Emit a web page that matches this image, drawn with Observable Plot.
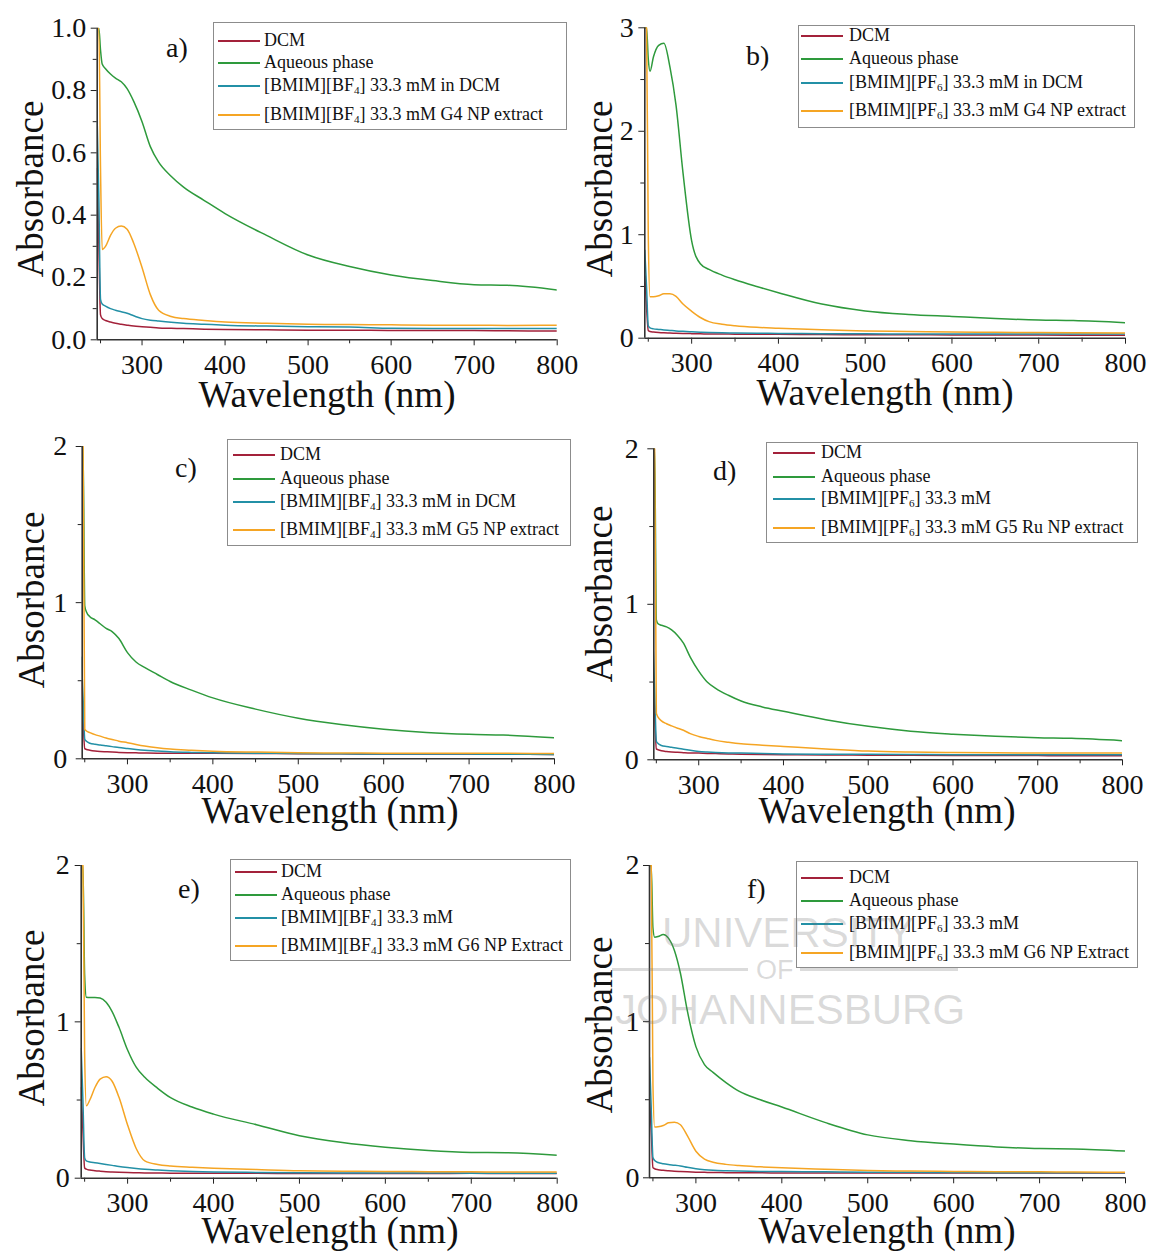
<!DOCTYPE html>
<html>
<head>
<meta charset="utf-8">
<script src="https://cdn.jsdelivr.net/npm/d3@7"></script>
<script src="https://cdn.jsdelivr.net/npm/@observablehq/plot@0.6"></script>
<style>
  body { margin: 0; background: #fff; }
  #root { position: relative; width: 1151px; height: 1252px; overflow: hidden; background: #fff;
          font-family: "Liberation Serif", "Times New Roman", serif; color: #111; }
  .legend { position: absolute; box-sizing: border-box; border: 1px solid #8c8c8c; }
  .sw { position: absolute; width: 42px; height: 2px; }
  .lt { position: absolute; white-space: nowrap; font-size: 18px; line-height: 1; color: #111; }
  .lt sub { font-size: 0.62em; vertical-align: -0.3em; line-height: 0; }
  .ttl { position: absolute; white-space: nowrap; font-size: 37px; line-height: 0.8; color: #111; }
  .let { position: absolute; white-space: nowrap; font-size: 28px; line-height: 1; color: #111; }
  .wm { position: absolute; white-space: nowrap; font-family: "Liberation Sans", Arial, sans-serif;
        color: rgba(110,110,110,0.25); line-height: 0.8; pointer-events: none; }
  .wmline { position: absolute; height: 3px; background: rgba(110,110,110,0.25); }
</style>
</head>
<body>
<div id="root"></div>
<script>
// ---------------- DATA ----------------
const WL = [246, 248, 250, 252, 256, 262, 268, 275, 282, 290, 300, 310, 320, 335, 350, 375, 400, 450, 500, 550, 600, 650, 700, 740, 800];

const SERIES = ["DCM", "Aqueous phase", "[BMIM] 33.3 mM", "NP extract"];
const COLORS = ["#a3213a", "#2e9a3c", "#2390a6", "#f5a524"];

// a) [BMIM][BF4] G4
const aDCM = [0.55,0.30,0.080,0.068,0.062,0.057,0.053,0.050,0.047,0.044,0.042,0.040,0.038,0.037,0.036,0.034,0.033,0.032,0.031,0.031,0.030,0.030,0.030,0.029,0.028];
const aAQ  = [1.00,1.00,0.93,0.885,0.87,0.853,0.84,0.828,0.806,0.765,0.70,0.62,0.57,0.525,0.49,0.447,0.405,0.335,0.272,0.235,0.208,0.19,0.177,0.175,0.16];
const aIL  = [0.70,0.45,0.13,0.115,0.108,0.10,0.095,0.09,0.085,0.077,0.068,0.063,0.06,0.056,0.053,0.05,0.047,0.044,0.042,0.041,0.037,0.036,0.036,0.036,0.036];
const aNP  = [1.00,1.00,0.55,0.29,0.30,0.335,0.358,0.365,0.355,0.31,0.232,0.145,0.095,0.075,0.068,0.062,0.057,0.053,0.05,0.049,0.048,0.047,0.047,0.046,0.047];

// b) [BMIM][PF6] G4
const bDCM = [0.60,0.30,0.075,0.065,0.06,0.055,0.052,0.05,0.048,0.046,0.044,0.042,0.041,0.04,0.039,0.038,0.037,0.035,0.034,0.033,0.032,0.031,0.03,0.029,0.028];
const bAQ  = [3.0,3.0,2.7,2.58,2.72,2.83,2.85,2.62,2.25,1.6,0.94,0.72,0.665,0.61,0.565,0.5,0.44,0.33,0.264,0.23,0.21,0.19,0.175,0.17,0.15];
const bIL  = [0.85,0.5,0.12,0.10,0.09,0.085,0.08,0.075,0.07,0.066,0.062,0.058,0.055,0.052,0.05,0.048,0.046,0.044,0.042,0.041,0.04,0.04,0.04,0.04,0.04];
const bNP  = [3.0,3.0,1.0,0.40,0.40,0.41,0.43,0.43,0.405,0.33,0.26,0.20,0.16,0.135,0.12,0.105,0.097,0.082,0.07,0.065,0.06,0.057,0.055,0.053,0.05];

// c) [BMIM][BF4] G5
const cDCM = [0.5,0.25,0.065,0.06,0.055,0.05,0.047,0.045,0.043,0.041,0.039,0.038,0.037,0.036,0.036,0.035,0.035,0.034,0.033,0.032,0.031,0.031,0.03,0.029,0.028];
const cAQ  = [2.0,2.0,0.98,0.94,0.91,0.89,0.865,0.835,0.815,0.77,0.68,0.62,0.585,0.54,0.495,0.44,0.39,0.318,0.26,0.22,0.19,0.169,0.157,0.152,0.135];
const cIL  = [0.65,0.4,0.125,0.112,0.10,0.093,0.088,0.083,0.078,0.072,0.066,0.06,0.055,0.05,0.045,0.041,0.039,0.036,0.034,0.032,0.031,0.03,0.03,0.029,0.028];
const cNP  = [2.0,2.0,0.19,0.178,0.168,0.155,0.145,0.133,0.124,0.113,0.103,0.092,0.082,0.07,0.062,0.055,0.049,0.043,0.039,0.037,0.036,0.035,0.035,0.035,0.034];

// d) [BMIM][PF6] G5 Ru
const dDCM = [0.57,0.3,0.07,0.065,0.058,0.053,0.05,0.048,0.046,0.044,0.043,0.041,0.04,0.038,0.036,0.034,0.033,0.031,0.03,0.029,0.028,0.027,0.027,0.026,0.026];
const dAQ  = [2.0,2.0,0.9,0.875,0.865,0.855,0.835,0.80,0.75,0.66,0.57,0.50,0.46,0.415,0.378,0.34,0.312,0.258,0.215,0.184,0.165,0.151,0.142,0.138,0.123];
const dIL  = [0.76,0.45,0.12,0.105,0.092,0.085,0.08,0.075,0.068,0.061,0.054,0.05,0.047,0.044,0.043,0.04,0.038,0.036,0.035,0.034,0.033,0.033,0.032,0.032,0.032];
const dNP  = [2.0,2.0,0.30,0.275,0.25,0.232,0.218,0.203,0.19,0.168,0.15,0.137,0.125,0.113,0.103,0.094,0.086,0.07,0.056,0.05,0.047,0.045,0.044,0.044,0.043];

// e) [BMIM][BF4] G6
const eDCM = [0.58,0.3,0.065,0.058,0.052,0.048,0.045,0.042,0.04,0.038,0.036,0.035,0.034,0.033,0.032,0.032,0.031,0.031,0.03,0.03,0.03,0.03,0.031,0.03,0.03];
const eAQ  = [2.0,2.0,1.3,1.157,1.155,1.155,1.152,1.125,1.065,0.965,0.82,0.71,0.645,0.575,0.515,0.455,0.41,0.342,0.272,0.228,0.198,0.177,0.165,0.163,0.147];
const eIL  = [0.83,0.5,0.13,0.111,0.104,0.099,0.094,0.088,0.082,0.075,0.068,0.062,0.057,0.052,0.048,0.043,0.04,0.037,0.035,0.034,0.033,0.033,0.032,0.032,0.032];
const eNP  = [2.0,2.0,0.8,0.463,0.50,0.58,0.634,0.649,0.62,0.517,0.34,0.19,0.111,0.088,0.078,0.07,0.064,0.055,0.047,0.045,0.043,0.042,0.041,0.04,0.04];

// f) [BMIM][PF6] G6
const fDCM = [0.52,0.3,0.065,0.058,0.052,0.048,0.045,0.042,0.04,0.038,0.036,0.035,0.034,0.033,0.032,0.032,0.031,0.031,0.03,0.03,0.03,0.03,0.031,0.03,0.03];
const fAQ  = [2.0,2.0,1.6,1.541,1.545,1.558,1.535,1.456,1.31,1.07,0.84,0.725,0.675,0.61,0.555,0.5,0.453,0.355,0.275,0.238,0.216,0.198,0.187,0.185,0.171];
const fIL  = [0.77,0.45,0.13,0.111,0.098,0.09,0.085,0.081,0.076,0.067,0.058,0.052,0.048,0.045,0.043,0.041,0.04,0.038,0.036,0.035,0.034,0.033,0.033,0.032,0.032];
const fNP  = [2.0,2.0,0.6,0.325,0.327,0.335,0.352,0.356,0.34,0.27,0.17,0.12,0.10,0.086,0.078,0.07,0.064,0.055,0.047,0.043,0.041,0.039,0.038,0.037,0.036];

// tick values
const X_MAJOR = [300, 400, 500, 600, 700, 800];
const X_MINOR = [250, 350, 450, 550, 650, 750];
const Y_MAJOR_A = [0, 0.2, 0.4, 0.6, 0.8, 1.0];
const Y_MINOR_A = [0.1, 0.3, 0.5, 0.7, 0.9];
const Y_MAJOR_B = [0, 1, 2, 3];
const Y_MINOR_B = [0.5, 1.5, 2.5];
const Y_MAJOR_2 = [0, 1, 2];
const Y_MINOR_2 = [0.5, 1.5];

// text
const X_TITLE = "Wavelength (nm)";
const Y_TITLE = "Absorbance";
const LEG_A = ["DCM", "Aqueous phase", "[BMIM][BF<sub>4</sub>] 33.3 mM in DCM", "[BMIM][BF<sub>4</sub>] 33.3 mM G4 NP extract"];
const LEG_B = ["DCM", "Aqueous phase", "[BMIM][PF<sub>6</sub>] 33.3 mM in DCM", "[BMIM][PF<sub>6</sub>] 33.3 mM G4 NP extract"];
const LEG_C = ["DCM", "Aqueous phase", "[BMIM][BF<sub>4</sub>] 33.3 mM in DCM", "[BMIM][BF<sub>4</sub>] 33.3 mM G5 NP extract"];
const LEG_D = ["DCM", "Aqueous phase", "[BMIM][PF<sub>6</sub>] 33.3 mM", "[BMIM][PF<sub>6</sub>] 33.3 mM G5 Ru NP extract"];
const LEG_E = ["DCM", "Aqueous phase", "[BMIM][BF<sub>4</sub>] 33.3 mM", "[BMIM][BF<sub>4</sub>] 33.3 mM G6 NP Extract"];
const LEG_F = ["DCM", "Aqueous phase", "[BMIM][PF<sub>6</sub>] 33.3 mM", "[BMIM][PF<sub>6</sub>] 33.3 mM G6 NP Extract"];

// ---------------- LAYOUT ----------------
const FONT = '"Liberation Serif", "Times New Roman", serif';
const PANELS = [
  { letter: "a)", values: [aDCM, aAQ, aIL, aNP], legend: LEG_A, yMax: 1, yMajor: Y_MAJOR_A, yMinor: Y_MINOR_A, fmt: d3.format(".1f"),
    left: 0, top: 0, W: 575, H: 420, xLeft: 96.7, x800: 556.7, yTop: 27.7, yBot: 339.3, x0: 246, gap: 11,
    lg: { x: 213, y: 22, w: 354, h: 108, rows: [18, 40, 63, 92], sx: 4, tx: 50 },
    letPos: [166, 57], xt: [327, 395], yt: [31, 189] },
  { letter: "b)", values: [bDCM, bAQ, bIL, bNP], legend: LEG_B, yMax: 3, yMajor: Y_MAJOR_B, yMinor: Y_MINOR_B, fmt: d => String(d),
    left: 575, top: 0, W: 576, H: 420, xLeft: 644.3, x800: 1125, yTop: 27.3, yBot: 337.7, x0: 246, gap: 11,
    lg: { x: 798, y: 25, w: 337, h: 103, rows: [10, 33, 57, 85], sx: 2, tx: 50 },
    letPos: [746, 65], xt: [885, 393], yt: [600, 189] },
  { letter: "c)", values: [cDCM, cAQ, cIL, cNP], legend: LEG_C, yMax: 2, yMajor: Y_MAJOR_2, yMinor: Y_MINOR_2, fmt: d => String(d),
    left: 0, top: 420, W: 575, H: 420, xLeft: 81.7, x800: 554, yTop: 446, yBot: 758.3, x0: 247, gap: 15,
    lg: { x: 227, y: 439, w: 344, h: 107, rows: [15, 39, 62, 90], sx: 5, tx: 52 },
    letPos: [175, 477], xt: [330, 811], yt: [32, 600] },
  { letter: "d)", values: [dDCM, dAQ, dIL, dNP], legend: LEG_D, yMax: 2, yMajor: Y_MAJOR_2, yMinor: Y_MINOR_2, fmt: d => String(d),
    left: 575, top: 420, W: 576, H: 420, xLeft: 653.3, x800: 1122, yTop: 448.3, yBot: 759.3, x0: 247, gap: 15,
    lg: { x: 766, y: 442, w: 372, h: 101, rows: [10, 34, 56, 85], sx: 6, tx: 54 },
    letPos: [713, 480], xt: [887, 811], yt: [600, 594] },
  { letter: "e)", values: [eDCM, eAQ, eIL, eNP], legend: LEG_E, yMax: 2, yMajor: Y_MAJOR_2, yMinor: Y_MINOR_2, fmt: d => String(d),
    left: 0, top: 840, W: 575, H: 412, xLeft: 80.7, x800: 556.7, yTop: 865, yBot: 1177.7, x0: 246, gap: 11.5,
    lg: { x: 230, y: 859, w: 341, h: 102, rows: [12, 35, 58, 86], sx: 4, tx: 50 },
    letPos: [178, 898], xt: [330, 1231], yt: [32, 1018] },
  { letter: "f)", values: [fDCM, fAQ, fIL, fNP], legend: LEG_F, yMax: 2, yMajor: Y_MAJOR_2, yMinor: Y_MINOR_2, fmt: d => String(d),
    left: 575, top: 840, W: 576, H: 412, xLeft: 649, x800: 1125, yTop: 865, yBot: 1177.3, x0: 246, gap: 10,
    lg: { x: 796, y: 861, w: 342, h: 107, rows: [16, 39, 62, 91], sx: 4, tx: 52 },
    letPos: [747, 898], xt: [887, 1231], yt: [600, 1025] }
];

const root = document.getElementById("root");

function el(cls, html, style, parent) {
  const d = document.createElement("div");
  d.className = cls;
  if (html != null) d.innerHTML = html;
  Object.assign(d.style, style || {});
  (parent || root).appendChild(d);
  return d;
}

for (const p of PANELS) {
  const rows = [];
  p.values.forEach((arr, si) => arr.forEach((v, i) => rows.push({ wl: WL[i], abs: v, series: SERIES[si] })));

  const svg = Plot.plot({
    width: p.W, height: p.H,
    marginLeft: p.xLeft - p.left,
    marginRight: p.left + p.W - p.x800,
    marginTop: p.yTop - p.top,
    marginBottom: p.top + p.H - p.yBot,
    style: { background: "transparent", fontFamily: FONT, fontSize: "28px", color: "#222", overflow: "visible" },
    x: { domain: [p.x0, 800], label: null },
    y: { domain: [0, p.yMax], label: null },
    color: { domain: SERIES, range: COLORS },
    marks: [
      Plot.line(rows, { x: "wl", y: "abs", z: "series", stroke: "series", strokeWidth: 1.5, curve: "monotone-x", clip: true }),
      Plot.axisX({ ticks: X_MINOR, tickSize: 4, fill: "none", label: null }),
      Plot.axisX({ ticks: X_MAJOR, tickSize: 6, tickPadding: 8, tickFormat: d => String(d), label: null, fill: "#111" }),
      Plot.axisY({ ticks: p.yMinor, tickSize: 4, fill: "none", label: null }),
      Plot.axisY({ ticks: p.yMajor, tickSize: 6, tickPadding: p.gap - 6, tickFormat: p.fmt, label: null, fill: "#111" }),
      Plot.ruleY([0], { stroke: "#333", strokeWidth: 1.6 }),
      Plot.ruleX([p.x0], { stroke: "#333", strokeWidth: 1.6 })
    ]
  });
  svg.style.position = "absolute";
  svg.style.left = p.left + "px";
  svg.style.top = p.top + "px";
  root.appendChild(svg);

  // axis titles
  el("ttl", X_TITLE, { left: p.xt[0] + "px", top: p.xt[1] + "px", transform: "translate(-50%,-50%)" });
  el("ttl", Y_TITLE, { left: p.yt[0] + "px", top: p.yt[1] + "px", transform: "translate(-50%,-50%) rotate(-90deg)" });

  // panel letter
  el("let", p.letter, { left: p.letPos[0] + "px", top: (p.letPos[1] - 0.8375 * 28) + "px" });

  // legend
  const box = el("legend", null, { left: p.lg.x + "px", top: p.lg.y + "px", width: p.lg.w + "px", height: p.lg.h + "px" });
  p.legend.forEach((txt, i) => {
    const y = p.lg.rows[i];
    el("sw", null, { left: p.lg.sx + "px", top: (y - 1) + "px", background: COLORS[i] }, box);
    el("lt", txt, { left: p.lg.tx + "px", top: (y - 10) + "px" }, box);
  });
}

// watermark
el("wm", "UNIVERSITY", { left: "662px", top: "916px", fontSize: "42px" });
el("wm", "OF", { left: "756px", top: "960px", fontSize: "27px" });
el("wmline", null, { left: "612px", top: "968px", width: "136px" });
el("wmline", null, { left: "800px", top: "968px", width: "158px" });
el("wm", "JOHANNESBURG", { left: "615px", top: "993px", fontSize: "42px" });
</script>
</body>
</html>
